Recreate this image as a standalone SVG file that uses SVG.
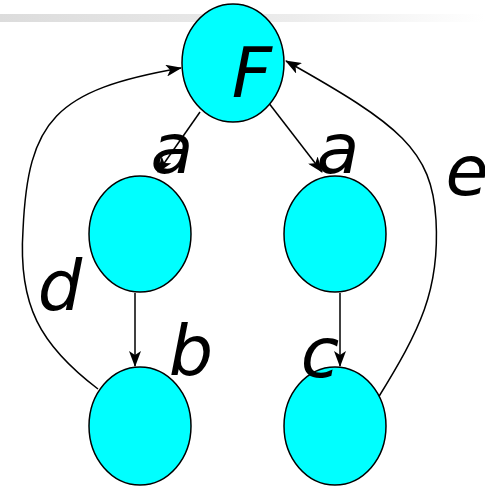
<svg xmlns="http://www.w3.org/2000/svg" width="485" height="488" viewBox="0 0 485 488">
<defs>
<linearGradient id="bar" x1="0" y1="0" x2="1" y2="0">
<stop offset="0" stop-color="#dcdcdc"/>
<stop offset="0.6" stop-color="#ececec"/>
<stop offset="1" stop-color="#ffffff"/>
</linearGradient>
<marker id="arr" viewBox="0 0 16 12" refX="15" refY="6" markerWidth="16" markerHeight="12" markerUnits="userSpaceOnUse" orient="auto">
<path d="M0,0 L16,6 L0,12 L4,6 Z" fill="#000"/>
</marker>
</defs>
<style>
.node{fill:#00ffff;stroke:#000;stroke-width:1.5}
.edge{fill:none;stroke:#000;stroke-width:1.5}
.lbl{font-family:"DejaVu Sans",Verdana,sans-serif;font-style:italic;font-size:70px;fill:#000;text-anchor:middle}
</style>
<rect x="0" y="14" width="485" height="8" fill="url(#bar)"/>
<g id="connectors">
<line class="edge" x1="200" y1="112" x2="158" y2="172" marker-end="url(#arr)"/>
<line class="edge" x1="268" y1="102" x2="322" y2="172" marker-end="url(#arr)"/>
<line class="edge" x1="135" y1="293" x2="135" y2="366" marker-end="url(#arr)"/>
<line class="edge" x1="340" y1="293" x2="340" y2="366" marker-end="url(#arr)"/>
<path class="edge" d="M98,389 C40,345 18,305 23,230 C28,120 55,90 181,68" marker-end="url(#arr)"/>
<path class="edge" d="M378,398 C420,330 440,290 436,220 C432,150 400,125 286,61" marker-end="url(#arr)"/>
</g>
<g id="F"><ellipse class="node" cx="233" cy="63" rx="51" ry="59"/><text class="lbl" x="252" y="97">F</text></g>
<g id="n1"><ellipse class="node" cx="140" cy="234" rx="51" ry="58"/></g>
<g id="n2"><ellipse class="node" cx="335" cy="234" rx="51" ry="58"/></g>
<g id="n3"><ellipse class="node" cx="140" cy="426" rx="51" ry="59"/></g>
<g id="n4"><ellipse class="node" cx="335" cy="426" rx="51" ry="59"/></g>
<g id="labels">
<text class="lbl" x="172" y="173">a</text>
<text class="lbl" x="338" y="173">a</text>
<text class="lbl" x="467" y="195">e</text>
<text class="lbl" x="60" y="310">d</text>
<text class="lbl" x="191" y="375">b</text>
<text class="lbl" x="320" y="377">c</text>
</g>
</svg>
